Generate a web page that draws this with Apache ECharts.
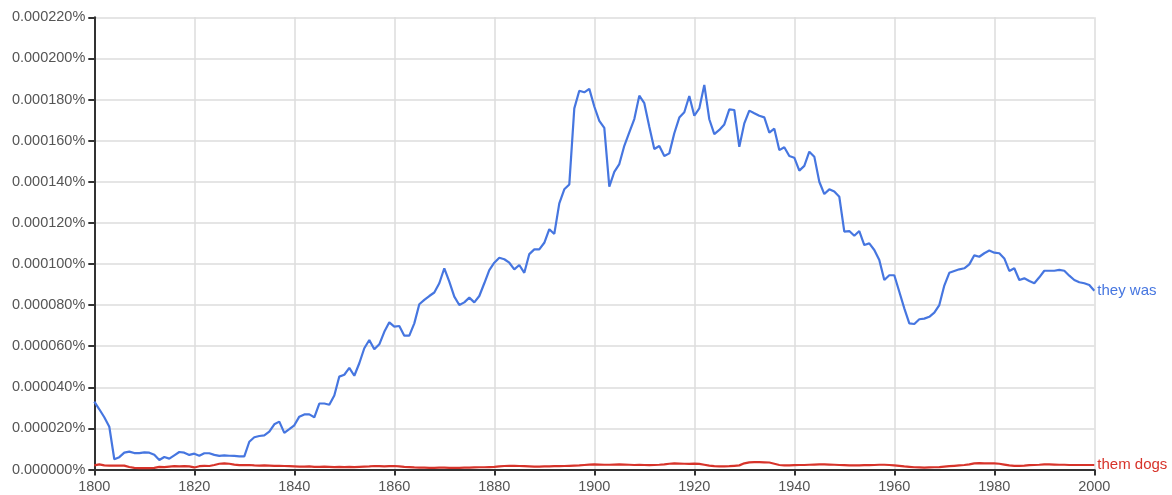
<!DOCTYPE html>
<html><head><meta charset="utf-8">
<script src="https://cdn.jsdelivr.net/npm/echarts@6/dist/echarts.min.js"></script>
<style>html,body{margin:0;padding:0;background:#fff}#c{width:1172px;height:495px}</style>
</head><body><div id="c"></div>
<script>
// values in millionths of a percent (33 => 0.000033%)
const startYear = 1800;
const endYear = 2000;
const theyWas = [
 33, 29.3, 25.4, 20.8, 5, 6, 8.2, 8.7, 8, 8,
 8.3, 8.2, 7.2, 4.6, 6.1, 5.3, 6.9, 8.5, 8.2, 7.1,
 7.7, 6.7, 7.9, 7.9, 7.1, 6.6, 6.9, 6.7, 6.6, 6.4,
 6.4, 13.5, 15.7, 16.3, 16.6, 18.4, 22, 23.3, 17.8, 19.6,
 21.5, 25.7, 26.8, 26.8, 25.4, 32.1, 32.1, 31.5, 36, 45.2,
 46.1, 49.4, 45.6, 51.7, 59, 63, 58.5, 60.9, 67, 71.6,
 69.5, 69.8, 65.1, 65.1, 71.1, 80.4, 82.5, 84.4, 86.1, 90.6,
 97.9, 91.4, 84.1, 80, 81.3, 83.6, 81.3, 84.4, 90.6, 97,
 100.6, 103, 102.3, 100.6, 97.4, 99.5, 95.7, 104.8, 107.1, 107.1,
 110.3, 116.9, 114.6, 129.5, 136.3, 138.7, 175.7, 184.3, 183.5, 185.2,
 176.6, 169.6, 166.2, 137.6, 144.8, 148.6, 157.5, 164, 170.5, 181.9,
 178.2, 166.8, 155.9, 157.4, 152.5, 153.8, 163.6, 171.2, 173.8, 181.7,
 172.1, 175.7, 187.1, 170.4, 163.2, 165.2, 167.9, 175.2, 174.9, 157,
 168.4, 174.6, 173.3, 172.1, 171.3, 163.9, 165.8, 155.4, 156.8, 152.5,
 151.7, 145.4, 147.7, 154.6, 152.2, 140, 134, 136.3, 135.2, 132.7,
 115.7, 116, 113.7, 116, 109.2, 110, 106.8, 101.9, 92.2, 94.5,
 94.5, 86.5, 78.4, 71.1, 70.8, 73.1, 73.4, 74.3, 76.3, 80,
 89.5, 95.7, 96.6, 97.4, 97.9, 99.8, 104.2, 103.5, 105.2, 106.5,
 105.5, 105.2, 102.7, 96.6, 97.9, 92.2, 93, 91.7, 90.6, 93.5,
 96.7, 96.7, 96.7, 97.1, 96.7, 94.3, 92.2, 91.1, 90.6, 89.8,
 87
];
const themDogs = [
 2.0, 2.5, 2.0, 1.9, 1.9, 1.9, 1.9, 1.2, 0.8, 0.7,
 0.7, 0.7, 0.8, 1.3, 1.2, 1.4, 1.6, 1.5, 1.6, 1.5,
 1.0, 1.6, 1.8, 1.7, 2.2, 2.8, 3.0, 2.8, 2.4, 2.1,
 2.1, 2.2, 2.0, 1.9, 2.0, 1.9, 1.8, 1.8, 1.7, 1.6,
 1.5, 1.4, 1.4, 1.5, 1.3, 1.3, 1.4, 1.3, 1.2, 1.3,
 1.2, 1.3, 1.2, 1.3, 1.4, 1.5, 1.7, 1.6, 1.5, 1.6,
 1.7, 1.5, 1.3, 1.2, 1.0, 0.9, 0.9, 0.8, 0.8, 0.9,
 0.9, 0.8, 0.8, 0.8, 0.9, 0.9, 1.0, 1.1, 1.1, 1.2,
 1.3, 1.5, 1.7, 1.8, 1.8, 1.7, 1.6, 1.5, 1.4, 1.4,
 1.5, 1.5, 1.6, 1.6, 1.7, 1.8, 1.9, 2.0, 2.2, 2.4,
 2.5, 2.4, 2.3, 2.3, 2.4, 2.5, 2.4, 2.3, 2.2, 2.3,
 2.2, 2.1, 2.2, 2.3, 2.5, 2.8, 3.0, 2.9, 2.8, 2.7,
 2.9, 2.7, 2.3, 1.9, 1.6, 1.5, 1.5, 1.6, 1.8, 2.0,
 3.0, 3.5, 3.6, 3.6, 3.5, 3.4, 2.8, 2.2, 2.0, 2.0,
 2.1, 2.2, 2.2, 2.3, 2.4, 2.5, 2.5, 2.4, 2.3, 2.2,
 2.1, 2.0, 2.0, 2.0, 2.1, 2.1, 2.2, 2.3, 2.3, 2.2,
 2.0, 1.8, 1.5, 1.3, 1.1, 1.0, 0.9, 1.0, 1.1, 1.2,
 1.4, 1.6, 1.8, 2.0, 2.2, 2.5, 3.0, 3.1, 3.0, 3.0,
 3.0, 2.8, 2.4, 2.0, 1.8, 1.8, 1.9, 2.1, 2.2, 2.3,
 2.5, 2.5, 2.4, 2.3, 2.3, 2.2, 2.2, 2.2, 2.2, 2.2,
 2.2
];
const seriesNames = ['they was', 'them dogs'];
const yTickStep = 20, yMax = 220, xTickStep = 20;

const FONT = "'Liberation Sans', Arial, sans-serif";
const pairs = arr => arr.map((v, i) => [startYear + i, v]);
const chart = echarts.init(document.getElementById('c'), null, {renderer: 'canvas'});
chart.setOption({
  animation: false,
  backgroundColor: '#ffffff',
  grid: {left: 94.3, right: 77.7, top: 17.3, bottom: 25.5, containLabel: false},
  xAxis: {
    type: 'value', min: startYear, max: endYear, interval: xTickStep,
    axisLine: {show: true, onZero: false, lineStyle: {color: '#333', width: 2}},
    axisTick: {show: true, length: 6, lineStyle: {color: '#333', width: 2}},
    axisLabel: {color: '#555', fontFamily: FONT, fontSize: 14.5, margin: 10, formatter: v => String(v)},
    splitLine: {show: true, lineStyle: {color: '#dcdcdc', width: 1.5}}
  },
  yAxis: {
    type: 'value', min: 0, max: yMax, interval: yTickStep,
    axisLine: {show: true, lineStyle: {color: '#333', width: 2}},
    axisTick: {show: true, length: 6, lineStyle: {color: '#333', width: 2}},
    axisLabel: {color: '#555', fontFamily: FONT, fontSize: 14.5, margin: 9,
      formatter: v => (v * 1e-6).toFixed(6) + '%'},
    splitLine: {show: true, lineStyle: {color: '#dcdcdc', width: 1.5}}
  },
  series: [
    {name: seriesNames[0], type: 'line', data: pairs(theyWas), showSymbol: false, symbol: 'none',
     lineStyle: {color: '#4676e0', width: 2.2}, itemStyle: {color: '#4676e0'},
     endLabel: {show: true, formatter: seriesNames[0], color: '#4676e0', fontFamily: FONT, fontSize: 15, distance: 3}},
    {name: seriesNames[1], type: 'line', data: pairs(themDogs), showSymbol: false, symbol: 'none',
     lineStyle: {color: '#d7332a', width: 2.2}, itemStyle: {color: '#d7332a'},
     endLabel: {show: true, formatter: seriesNames[1], color: '#d7332a', fontFamily: FONT, fontSize: 15, distance: 3}}
  ]
});
</script></body></html>
